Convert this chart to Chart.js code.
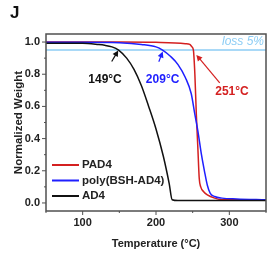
<!DOCTYPE html>
<html>
<head>
<meta charset="utf-8">
<script src="https://cdn.jsdelivr.net/npm/chart.js@4"></script>
<style>
html, body { margin: 0; padding: 0; background: #fff; }
#wrap { width: 273px; height: 253px; }
</style>
</head>
<body>
<div id="wrap"><canvas id="myChart"></canvas></div>
<script>
// TGA curves
var pad4Temp = [50, 150, 200, 240, 246, 249, 251, 253, 255, 257, 259, 261, 265, 270, 280, 290, 350];
var pad4Weight = [1.0, 1.0, 0.998, 0.99, 0.985, 0.97, 0.95, 0.80, 0.55, 0.35, 0.15, 0.10, 0.07, 0.05, 0.03, 0.02, 0.02];

var polyTemp = [50, 100, 150, 180, 200, 209, 220, 230, 240, 248, 253, 257, 262, 266, 270, 274, 280, 290, 310, 350];
var polyWeight = [0.998, 0.998, 0.995, 0.985, 0.97, 0.95, 0.91, 0.86, 0.78, 0.68, 0.55, 0.45, 0.30, 0.20, 0.11, 0.06, 0.04, 0.03, 0.025, 0.02];

var ad4Temp = [50, 80, 100, 120, 130, 140, 149, 160, 170, 180, 190, 200, 210, 218, 222, 230, 260, 300, 350];
var ad4Weight = [0.993, 0.993, 0.992, 0.985, 0.98, 0.97, 0.95, 0.90, 0.83, 0.73, 0.60, 0.46, 0.29, 0.12, 0.02, 0.015, 0.015, 0.015, 0.015];

var lossLevel = 0.95;
var xTicks = [100, 200, 300];
var xMinor = [50, 150, 250, 350];
var yTicks = [0.0, 0.2, 0.4, 0.6, 0.8, 1.0];
var yMinor = [0.1, 0.3, 0.5, 0.7, 0.9];

// onset labels: text, text pos, arrow tail, arrow head (data units)
var onsetLabels = ['149\u00B0C', '209\u00B0C', '251\u00B0C'];
var onsetText = [[130.5, 0.764], [209, 0.764], [303.6, 0.689]];
var onsetTail = [[139.6, 0.879], [203.8, 0.877], [286.9, 0.746]];
var onsetHead = [[148.5, 0.948], [209.2, 0.941], [255, 0.92]];

var red = '#d42020';
var blue = '#1f1fff';
var black = '#111111';
var lightBlue = '#8ccdf5';

function pts(xs, ys) {
    return xs.map(function (x, i) { return { x: x, y: ys[i] }; });
}

var fontFam = '"Liberation Sans", Arial, sans-serif';

var extras = {
    id: 'extras',
    afterDraw: function (chart) {
        var c = chart.ctx;
        var a = chart.chartArea;
        var xs = chart.scales.x, ys = chart.scales.y;
        c.save();

        // frame
        c.strokeStyle = '#505050';
        c.lineWidth = 1.5;
        c.strokeRect(a.left, a.top, a.right - a.left, a.bottom - a.top);

        // tick marks (outward)
        c.lineWidth = 1;
        c.beginPath();
        xTicks.forEach(function (v) {
            var p = xs.getPixelForValue(v);
            c.moveTo(p, a.bottom); c.lineTo(p, a.bottom + 4);
        });
        xMinor.forEach(function (v) {
            var p = xs.getPixelForValue(v);
            c.moveTo(p, a.bottom); c.lineTo(p, a.bottom + 2);
        });
        yTicks.forEach(function (v) {
            var p = ys.getPixelForValue(v);
            c.moveTo(a.left, p); c.lineTo(a.left - 4, p);
        });
        yMinor.forEach(function (v) {
            var p = ys.getPixelForValue(v);
            c.moveTo(a.left, p); c.lineTo(a.left - 2, p);
        });
        c.stroke();

        // loss 5% label
        c.fillStyle = lightBlue;
        c.font = 'italic 12px ' + fontFam;
        c.textAlign = 'right';
        c.textBaseline = 'middle';
        c.fillText('loss 5%', a.right - 2, ys.getPixelForValue(1.0));

        // onset arrows + labels
        var cols = [black, blue, red];
        onsetLabels.forEach(function (t, i) {
            var tx = xs.getPixelForValue(onsetTail[i][0]), ty = ys.getPixelForValue(onsetTail[i][1]);
            var hx = xs.getPixelForValue(onsetHead[i][0]), hy = ys.getPixelForValue(onsetHead[i][1]);
            var ang = Math.atan2(hy - ty, hx - tx);
            c.strokeStyle = cols[i];
            c.fillStyle = cols[i];
            c.lineWidth = 1.2;
            c.beginPath();
            c.moveTo(tx, ty);
            c.lineTo(hx - 4 * Math.cos(ang), hy - 4 * Math.sin(ang));
            c.stroke();
            c.beginPath();
            c.moveTo(hx, hy);
            c.lineTo(hx - 6 * Math.cos(ang) + 3 * Math.sin(ang), hy - 6 * Math.sin(ang) - 3 * Math.cos(ang));
            c.lineTo(hx - 6 * Math.cos(ang) - 3 * Math.sin(ang), hy - 6 * Math.sin(ang) + 3 * Math.cos(ang));
            c.closePath();
            c.fill();
            c.font = 'bold 12px ' + fontFam;
            c.textAlign = 'center';
            c.fillText(t, xs.getPixelForValue(onsetText[i][0]), ys.getPixelForValue(onsetText[i][1]));
        });

        // legend, lower left inside the plot
        var order = [2, 1, 0];
        c.font = 'bold 11.5px ' + fontFam;
        c.textAlign = 'left';
        c.textBaseline = 'middle';
        order.forEach(function (di, k) {
            var ds = chart.data.datasets[di];
            var y = a.top + 131 + k * 15.5;
            c.strokeStyle = ds.borderColor;
            c.lineWidth = 2;
            c.beginPath();
            c.moveTo(a.left + 6, y); c.lineTo(a.left + 33, y);
            c.stroke();
            c.fillStyle = '#222';
            c.fillText(ds.label, a.left + 36, y);
        });

        // panel letter
        c.fillStyle = '#111';
        c.font = 'bold 17px ' + fontFam;
        c.textAlign = 'left';
        c.textBaseline = 'alphabetic';
        c.fillText('J', 10, 18);
        c.restore();
    }
};

var ctx = document.getElementById('myChart').getContext('2d');
var myChart = new Chart(ctx, {
    type: 'line',
    data: {
        datasets: [{
            label: 'AD4',
            data: pts(ad4Temp, ad4Weight),
            borderColor: black,
            borderWidth: 1.5,
            pointRadius: 0,
            cubicInterpolationMode: 'monotone'
        }, {
            label: 'poly(BSH-AD4)',
            data: pts(polyTemp, polyWeight),
            borderColor: blue,
            borderWidth: 1.5,
            pointRadius: 0,
            cubicInterpolationMode: 'monotone'
        }, {
            label: 'PAD4',
            data: pts(pad4Temp, pad4Weight),
            borderColor: red,
            borderWidth: 1.5,
            pointRadius: 0,
            cubicInterpolationMode: 'monotone'
        }, {
            label: 'loss 5%',
            data: pts([50, 350], [lossLevel, lossLevel]),
            borderColor: lightBlue,
            borderWidth: 1.5,
            pointRadius: 0
        }]
    },
    plugins: [extras],
    options: {
        responsive: true,
        maintainAspectRatio: false,
        animation: false,
        layout: { padding: { top: 34, right: 7, left: 0, bottom: 0 } },
        plugins: {
            legend: { display: false },
            tooltip: { enabled: false }
        },
        scales: {
            x: {
                type: 'linear',
                min: 50,
                max: 350,
                grid: { display: false, drawTicks: false },
                border: { display: false },
                afterBuildTicks: function (axis) {
                    axis.ticks = xTicks.map(function (v) { return { value: v }; });
                },
                afterFit: function (axis) { axis.height = 42; },
                ticks: {
                    color: '#222',
                    padding: 5,
                    maxRotation: 0,
                    font: { family: fontFam, size: 11, weight: 'bold' }
                },
                title: {
                    display: true,
                    text: 'Temperature (\u00B0C)',
                    color: '#222',
                    padding: { top: 0, bottom: 2 },
                    font: { family: fontFam, size: 11, weight: 'bold' }
                }
            },
            y: {
                min: -0.05,
                max: 1.05,
                grid: { display: false, drawTicks: false },
                border: { display: false },
                afterBuildTicks: function (axis) {
                    axis.ticks = yTicks.map(function (v) { return { value: v }; });
                },
                afterFit: function (axis) { axis.width = 46; },
                ticks: {
                    color: '#222',
                    padding: 6,
                    font: { family: fontFam, size: 11, weight: 'bold' },
                    callback: function (v) { return v.toFixed(1); }
                },
                title: {
                    display: true,
                    text: 'Normalized Weight',
                    color: '#222',
                    padding: { top: 12, bottom: 0 },
                    font: { family: fontFam, size: 11.5, weight: 'bold' }
                }
            }
        }
    }
});
</script>
</body>
</html>
